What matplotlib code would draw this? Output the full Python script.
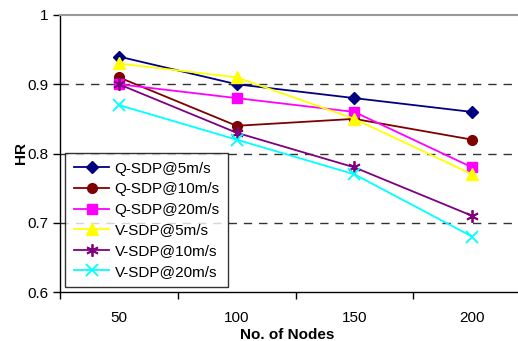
import numpy as np
import matplotlib
matplotlib.use('Agg')
import matplotlib.pyplot as plt

plt.rcParams['font.family'] = ['Liberation Sans', 'DejaVu Sans']

# data
nodes = ['50', '100', '150', '200']
q_sdp_5 = [0.94, 0.90, 0.88, 0.86]
q_sdp_10 = [0.91, 0.84, 0.85, 0.82]
q_sdp_20 = [0.90, 0.88, 0.86, 0.78]
v_sdp_5 = [0.93, 0.91, 0.85, 0.77]
v_sdp_10 = [0.90, 0.83, 0.78, 0.71]
v_sdp_20 = [0.87, 0.82, 0.77, 0.68]

series = [
    ('Q-SDP@5m/s', q_sdp_5, '#000080', 'D', 6),
    ('Q-SDP@10m/s', q_sdp_10, '#800000', 'o', 7),
    ('Q-SDP@20m/s', q_sdp_20, '#FF00FF', 's', 7),
    ('V-SDP@5m/s', v_sdp_5, '#FFFF00', '^', 8),
    ('V-SDP@10m/s', v_sdp_10, '#800080', (6, 2, 0), 9),
    ('V-SDP@20m/s', v_sdp_20, '#00FFFF', 'x', 8),
]

fig = plt.figure(figsize=(5.18, 3.41), dpi=100)
ax = fig.add_axes([60 / 518, 49 / 341, 471 / 518, 277 / 341])

x = np.arange(len(nodes))
for label, vals, col, mk, ms in series:
    mew = 1.3 if mk in ('x', (6, 2, 0)) else 1
    ax.plot(x, vals, color=col, marker=mk, markersize=ms, lw=1.3,
            markeredgewidth=mew, label=label)

ax.set_xlim(-0.5, 3.5)
ax.set_ylim(0.6, 1.0)

# category axis: tick marks between groups, labels at centres
ax.set_xticks([-0.5, 0.5, 1.5, 2.5, 3.5])
ax.set_xticklabels([])
ax.set_xticks(x, minor=True)
ax.set_xticklabels(nodes, minor=True, fontsize=11)
ax.tick_params(axis='x', which='minor', length=0, pad=14)
ax.tick_params(axis='x', which='major', direction='out', length=5, width=1)

ax.set_yticks([0.6, 0.7, 0.8, 0.9, 1.0])
ax.set_yticklabels(['0.6', '0.7', '0.8', '0.9', '1'], fontsize=11)
ax.tick_params(axis='y', direction='out', length=5, width=1)

for yv in [0.7, 0.8, 0.9]:
    ax.axhline(yv, color='#333333', lw=1, linestyle=(0, (6, 5)), zorder=0)

ax.spines['top'].set_color('#999999')
ax.spines['top'].set_linewidth(1.5)
ax.spines['right'].set_visible(False)
ax.spines['left'].set_linewidth(1)
ax.spines['bottom'].set_linewidth(1)

ax.set_xlabel('No. of Nodes', fontsize=11, fontweight='bold')
ax.xaxis.set_label_coords((287 - 60) / 471, -0.13)
ax.set_ylabel('HR', fontsize=11, fontweight='bold')
ax.yaxis.set_label_coords(-0.068, 0.5)

leg = ax.legend(loc='lower left', bbox_to_anchor=(0.011, 0.018), fontsize=11,
                frameon=True, fancybox=False, edgecolor='black',
                borderpad=0.55, labelspacing=0.43, handlelength=2.35,
                handletextpad=0.33, borderaxespad=0)
leg.get_frame().set_linewidth(1)

plt.savefig('out.png', dpi=100)
